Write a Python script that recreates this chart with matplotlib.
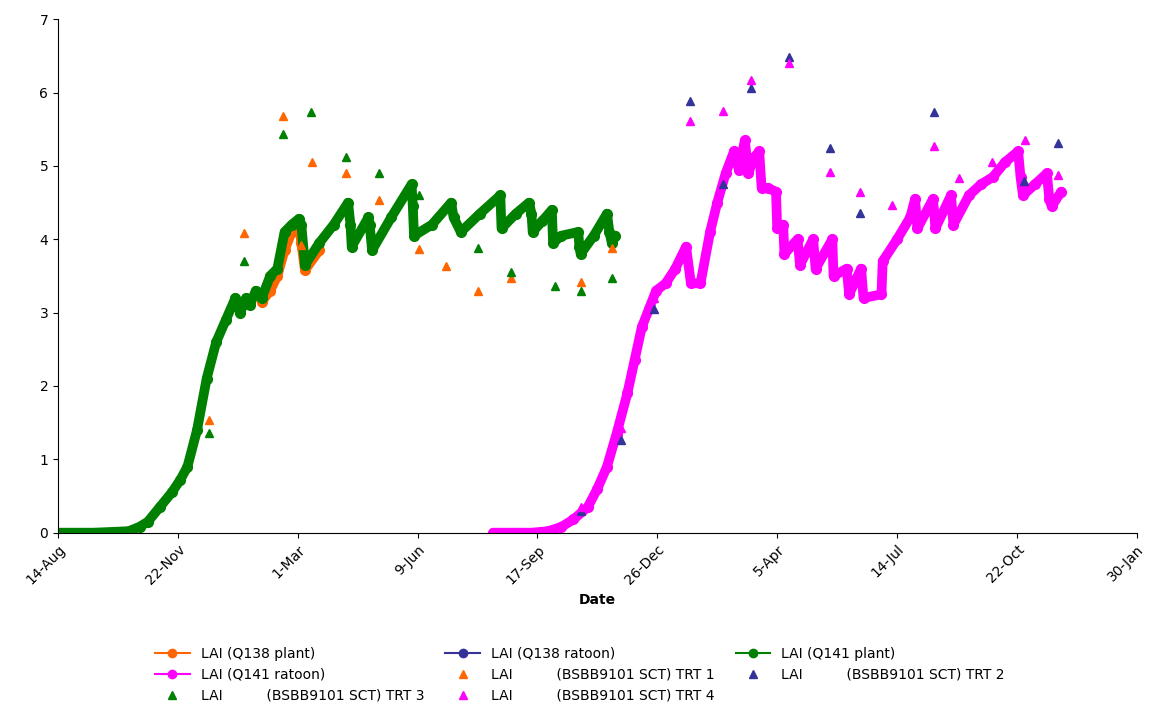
import matplotlib
matplotlib.use("Agg")
import matplotlib.pyplot as plt
from matplotlib.lines import Line2D
import numpy as np

# x in days since 14-Aug-1999
tick_days = [0, 100, 200, 300, 400, 500, 600, 700, 800, 900]
tick_labels = ["14-Aug", "22-Nov", "1-Mar", "9-Jun", "17-Sep", "26-Dec",
               "5-Apr", "14-Jul", "22-Oct", "30-Jan"]

q141_plant_d = [0, 30, 59, 68, 75, 85, 95, 102, 108, 116, 124, 132, 140, 148, 152, 157, 160,
                165, 170, 177, 183, 189, 195, 201, 203, 206, 218, 230, 242, 244, 245, 259, 260,
                262, 278, 295, 296, 297, 312, 328, 330, 336, 352, 369, 370, 382, 393, 395, 396,
                404, 412, 413, 420, 434, 435, 436, 447, 458, 460, 462, 465]
q141_plant_v = [0, 0, 0.02, 0.08, 0.15, 0.35, 0.55, 0.72, 0.9, 1.4, 2.1, 2.6, 2.9, 3.2, 3.0, 3.2, 3.1,
                3.3, 3.2, 3.5, 3.6, 4.1, 4.2, 4.28, 4.2, 3.65, 3.95, 4.2, 4.5, 4.2, 3.9, 4.3, 4.2,
                3.85, 4.3, 4.75, 4.45, 4.05, 4.2, 4.5, 4.3, 4.1, 4.35, 4.6, 4.15, 4.35, 4.5, 4.35,
                4.1, 4.25, 4.4, 3.95, 4.05, 4.1, 3.9, 3.8, 4.05, 4.35, 4.1, 3.95, 4.05]

q138_plant_d = [170, 177, 183, 189, 195, 201, 203, 206, 218]
q138_plant_v = [3.15, 3.3, 3.5, 3.85, 4.1, 4.2, 3.95, 3.58, 3.85]

q141_rat_d = [363, 380, 395, 409, 420, 430, 442, 450, 458, 466, 475, 481, 487, 493, 499, 507,
              515, 524, 528, 536, 544, 550, 557, 564, 568, 573, 576, 580, 585, 587, 592, 599,
              600, 605, 606, 617, 619, 630, 632, 646, 647, 658, 660, 670, 672, 687, 688, 700,
              711, 715, 717, 730, 732, 745, 747, 760, 770, 780, 790, 801, 803, 805, 815, 825,
              827, 829, 837]
q141_rat_v = [0, 0, 0, 0.02, 0.08, 0.18, 0.35, 0.6, 0.9, 1.35, 1.9, 2.35, 2.8, 3.05, 3.3, 3.4,
              3.6, 3.9, 3.4, 3.4, 4.1, 4.5, 4.9, 5.2, 4.95, 5.35, 4.9, 5.1, 5.2, 4.7, 4.7, 4.65,
              4.15, 4.2, 3.8, 4.0, 3.65, 4.0, 3.6, 4.0, 3.5, 3.6, 3.25, 3.6, 3.2, 3.25, 3.7, 4.0,
              4.3, 4.55, 4.15, 4.55, 4.15, 4.6, 4.2, 4.6, 4.75, 4.85, 5.05, 5.2, 4.85, 4.6, 4.75,
              4.9, 4.55, 4.45, 4.65]

trt1_d = [126, 155, 188, 203, 212, 240, 268, 301, 324, 350, 378, 436, 462]
trt1_v = [1.54, 4.09, 5.68, 3.92, 5.06, 4.9, 4.54, 3.87, 3.64, 3.3, 3.47, 3.42, 3.88]
trt3_d = [126, 155, 188, 211, 240, 268, 301, 350, 378, 415, 436, 462]
trt3_v = [1.36, 3.7, 5.43, 5.73, 5.12, 4.9, 4.6, 3.88, 3.55, 3.37, 3.3, 3.47]
trt2_d = [436, 470, 497, 527, 555, 578, 610, 644, 669, 731, 806, 834]
trt2_v = [0.3, 1.26, 3.05, 5.89, 4.75, 6.07, 6.49, 5.25, 4.36, 5.74, 4.8, 5.32]
trt4_d = [436, 470, 497, 527, 555, 578, 610, 644, 669, 696, 731, 752, 779, 807, 834]
trt4_v = [0.35, 1.43, 3.2, 5.62, 5.75, 6.17, 6.41, 4.92, 4.64, 4.47, 5.27, 4.84, 5.05, 5.35, 4.88]

ORANGE, NAVY, GREEN, MAGENTA = "#ff6600", "#333399", "#008000", "#ff00ff"

fig = plt.figure(figsize=(11.6, 7.15), dpi=100)
ax = fig.add_axes([0.05, 0.255, 0.93, 0.718])

for d, v, c in [(q138_plant_d, q138_plant_v, ORANGE),
                (q141_plant_d, q141_plant_v, GREEN),
                (q141_rat_d, q141_rat_v, MAGENTA)]:
    ax.plot(d, v, color=c, lw=7, solid_capstyle="round", solid_joinstyle="round")
    ax.plot(d, v, color=c, lw=1, marker="o", ms=7)

ax.plot(trt1_d, trt1_v, ls="none", marker="^", ms=6, color=ORANGE)
ax.plot(trt3_d, trt3_v, ls="none", marker="^", ms=6, color=GREEN)
ax.plot(trt2_d, trt2_v, ls="none", marker="^", ms=6, color=NAVY)
ax.plot(trt4_d, trt4_v, ls="none", marker="^", ms=6, color=MAGENTA)

ax.set_xlim(0, 900)
ax.set_ylim(0, 7)
ax.set_xticks(tick_days)
ax.set_xticklabels(tick_labels, rotation=45, ha="right", rotation_mode="anchor", fontsize=10)
ax.set_yticks(range(8))
ax.tick_params(labelsize=10)
for s in ["top", "right"]:
    ax.spines[s].set_visible(False)
ax.set_xlabel("Date", fontsize=10, fontweight="bold")

handles = [
    Line2D([], [], color=ORANGE, marker="o", ms=6, lw=1.5),
    Line2D([], [], color=NAVY, marker="o", ms=6, lw=1.5),
    Line2D([], [], color=GREEN, marker="o", ms=6, lw=1.5),
    Line2D([], [], color=MAGENTA, marker="o", ms=6, lw=1.5),
    Line2D([], [], color=ORANGE, marker="^", ms=6, ls="none"),
    Line2D([], [], color=NAVY, marker="^", ms=6, ls="none"),
    Line2D([], [], color=GREEN, marker="^", ms=6, ls="none"),
    Line2D([], [], color=MAGENTA, marker="^", ms=6, ls="none"),
]
labels = ["LAI (Q138 plant)", "LAI (Q138 ratoon)", "LAI (Q141 plant)", "LAI (Q141 ratoon)",
          "LAI          (BSBB9101 SCT) TRT 1", "LAI          (BSBB9101 SCT) TRT 2",
          "LAI          (BSBB9101 SCT) TRT 3", "LAI          (BSBB9101 SCT) TRT 4"]
# reorder so a 3-column legend fills row-wise
order = [0, 3, 6, 1, 4, 7, 2, 5]
fig.legend([handles[i] for i in order], [labels[i] for i in order], ncol=3,
           loc="lower center", bbox_to_anchor=(0.5, 0.0), frameon=False, fontsize=10,
           columnspacing=1.5, handlelength=2.5)

fig.savefig("out.png", dpi=100)
